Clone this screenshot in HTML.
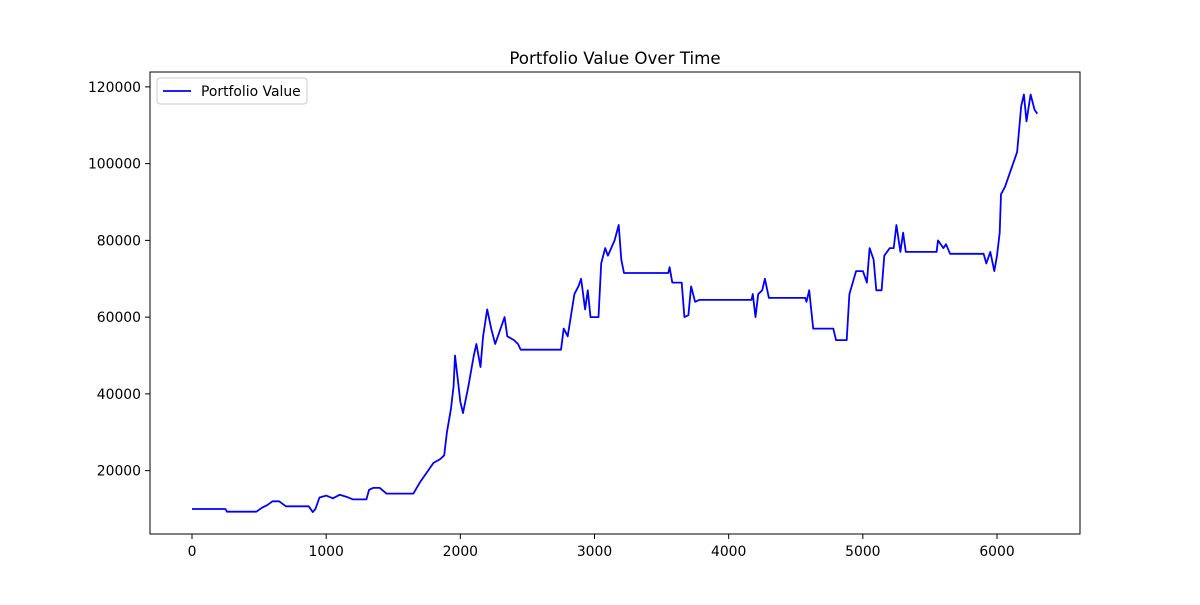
<!DOCTYPE html>
<html><head><meta charset="utf-8"><style>
body{margin:0;background:#fff;font-family:"Liberation Sans","DejaVu Sans",sans-serif}
svg text{font-family:"DejaVu Sans","Liberation Sans",sans-serif}
</style></head><body>
<svg id="chart" width="1200" height="600" xmlns="http://www.w3.org/2000/svg">
<rect width="1200" height="600" fill="#fff"/>
<text x="615" y="64" text-anchor="middle" font-size="16.7">Portfolio Value Over Time</text>
<g id="ticks"></g>
<path id="line" fill="none" stroke="#0000ff" stroke-width="1.8" stroke-linejoin="round"/>
<rect x="150" y="72" width="930" height="462" fill="none" stroke="#000" stroke-width="1"/>
<g>
<rect x="157" y="78" width="150" height="26" rx="3" fill="#fff" stroke="#ccc"/>
<line x1="163" y1="91" x2="191" y2="91" stroke="#0000ff" stroke-width="1.8"/>
<text x="201" y="96" font-size="13.9">Portfolio Value</text>
</g>
</svg>
<script>
const xTicks=[0,1000,2000,3000,4000,5000,6000];
const yTicks=[20000,40000,60000,80000,100000,120000];
const steps=[0,250,260,480,520,560,600,650,700,870,900,920,950,1000,1050,1100,1150,1200,1300,1320,1350,1400,1450,1650,1700,1750,1800,1850,1880,1900,1930,1950,1960,1980,2000,2020,2060,2100,2120,2150,2170,2200,2230,2260,2300,2330,2350,2400,2430,2450,2750,2770,2800,2850,2880,2900,2930,2950,2970,3030,3050,3080,3100,3150,3180,3200,3220,3550,3560,3580,3650,3670,3700,3720,3750,3780,4170,4180,4200,4220,4250,4270,4300,4570,4580,4600,4630,4780,4800,4880,4900,4950,5000,5030,5050,5080,5100,5140,5160,5200,5230,5250,5280,5300,5320,5550,5560,5600,5620,5650,5900,5920,5950,5980,6000,6020,6030,6060,6100,6150,6180,6200,6220,6250,6280,6300];
const values=[10000,10000,9300,9300,10300,11000,12000,12000,10700,10700,9200,10000,13000,13500,12800,13700,13200,12500,12500,15000,15500,15500,14000,14000,17000,19500,22000,23000,24000,30000,36000,42000,50000,44000,38000,35000,42000,50000,53000,47000,55000,62000,57000,53000,57000,60000,55000,54000,53000,51500,51500,57000,55000,66000,68000,70000,62000,67000,60000,60000,74000,78000,76000,80000,84000,75000,71500,71500,73000,69000,69000,60000,60500,68000,64000,64500,64500,66000,60000,66000,67000,70000,65000,65000,64000,67000,57000,57000,54000,54000,66000,72000,72000,69000,78000,75000,67000,67000,76000,78000,78000,84000,77000,82000,77000,77000,80000,78000,79000,76500,76500,74000,77000,72000,76000,82000,92000,94000,98000,103000,115000,118000,111000,118000,114000,113000];
const X=v=>192+v*0.13417;
const Y=v=>509-(v-10000)*0.0038375;
const ns="http://www.w3.org/2000/svg";
const g=document.getElementById('ticks');
function mk(t,a){const e=document.createElementNS(ns,t);for(const k in a)e.setAttribute(k,a[k]);g.appendChild(e);return e;}
xTicks.forEach(v=>{
 const l=mk('line',{x1:X(v),x2:X(v),y1:534,y2:539,stroke:'#000'});
 
 
 const t=mk('text',{x:X(v),y:556,'text-anchor':'middle','font-size':'13.9'});
 t.textContent=v;
 
 
});
yTicks.forEach(v=>{
 const l=mk('line',{x1:145,x2:150,y1:Y(v),y2:Y(v),stroke:'#000'});
 
 
 const t=mk('text',{x:141,y:Y(v)+5,'text-anchor':'end','font-size':'13.9'});
 t.textContent=v;
 
 
});
document.getElementById('line').setAttribute('d',steps.map((s,i)=>(i?'L':'M')+X(s).toFixed(1)+' '+Y(values[i]).toFixed(1)).join(''));
</script>
</body></html>
